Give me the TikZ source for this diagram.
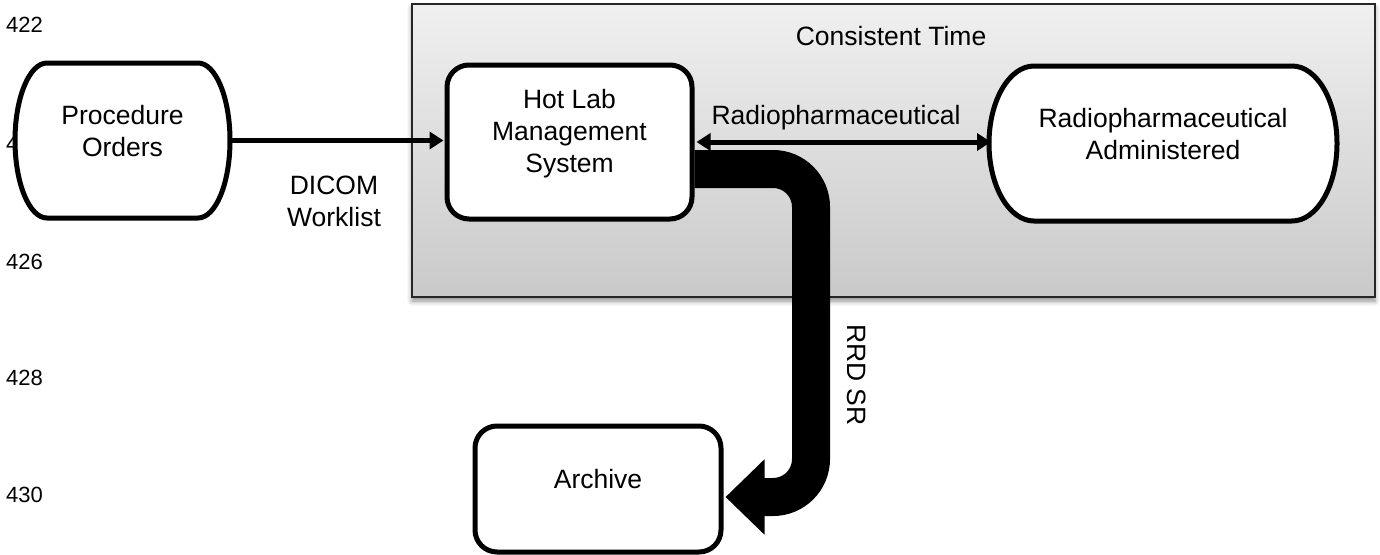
\documentclass[tikz,border=0pt]{standalone}
\usepackage{fontspec}
\setmainfont{Liberation Sans}
\usetikzlibrary{arrows.meta,shadows.blur}
\begin{document}
\begin{tikzpicture}[x=1pt,y=-1pt,
  txt/.style={font=\fontsize{26.5}{32}\selectfont, align=center, inner sep=0pt},
  lnum/.style={font=\fontsize{22}{26}\selectfont, inner sep=0pt},
  box/.style={draw=black, line width=5pt, fill=white, rounded corners=22pt},
  termline/.style={draw=black, line width=5pt, fill=white},
  cont/.style={draw=black!85, line width=1.8pt, top color=black!6, bottom color=black!21,
    blur shadow={shadow xshift=0pt, shadow yshift=-4pt, shadow blur radius=5pt, shadow opacity=45}},
  conn/.style={line width=5pt},
  thintip/.tip={Triangle[length=14pt,width=17pt]}
]
\useasboundingbox (0,0) rectangle (1380,554);
% line numbers
\node[lnum] (n422) at (24.5,25) {422};
\node[lnum] (n424) at (24.5,143.5) {424};
\node[lnum] (n426) at (24.5,262) {426};
\node[lnum] (n428) at (24.5,378) {428};
\node[lnum] (n430) at (24.5,495) {430};
% container
\node[cont, minimum width=963pt, minimum height=293pt] (ct) at (893.5,150.5) {};
\node[txt] (ctl) at (891,36) {Consistent Time};
% Procedure Orders (terminator with half-elliptic ends)
\node[minimum width=215pt, minimum height=155pt, inner sep=0pt, outer sep=0pt] (po) at (122.5,140.5) {};
\path[termline] ([xshift=32pt]po.north west) -- ([xshift=-32pt]po.north east)
  arc[start angle=90, end angle=-90, x radius=32pt, y radius=77.5pt]
  -- ([xshift=32pt]po.south west)
  arc[start angle=270, end angle=90, x radius=32pt, y radius=77.5pt] -- cycle;
\node[txt] (pot) at ([yshift=9pt]po.center) {Procedure\\Orders};
% Hot Lab
\node[box, minimum width=245pt, minimum height=154pt] (hl) at (569.5,142) {};
\node[txt] (hlt) at ([yshift=8pt]hl.center) {Hot Lab\\Management\\System};
% Radiopharmaceutical Administered
\node[minimum width=348pt, minimum height=155pt, inner sep=0pt, outer sep=0pt] (ra) at (1163,143.5) {};
\path[termline] ([xshift=45pt]ra.north west) -- ([xshift=-45pt]ra.north east)
  arc[start angle=90, end angle=-90, x radius=45pt, y radius=77.5pt]
  -- ([xshift=45pt]ra.south west)
  arc[start angle=270, end angle=90, x radius=45pt, y radius=77.5pt] -- cycle;
\node[txt] (rat) at ([yshift=9pt]ra.center) {Radiopharmaceutical\\Administered};
% Archive
\node[box, minimum width=246pt, minimum height=126pt] (ar) at (598,489) {};
\node[txt] (art) at ([yshift=10pt]ar.center) {Archive};
% connectors
\draw[conn, -thintip] ([xshift=-1pt]po.east) -- ([xshift=-1pt]po.east -| hl.west);
\node[txt] (dw) at (334,201.5) {DICOM\\Worklist};
\draw[conn, thintip-thintip] ([xshift=2pt]hl.east) -- ([xshift=2pt]hl.east -| ra.west);
\node[txt] (rl) at (836,118) {Radiopharmaceutical};
\coordinate (c1) at (811,169);
\coordinate (c2) at (811,497);
\draw[line width=38pt, rounded corners=38pt, -{Triangle[length=39pt,width=73pt]}]
  ([yshift=-27pt]hl.east) -- (c1) -- (c2) -- ([xshift=2pt]ar.east |- c2);
\node[txt, rotate=-90] (rrd) at (857,375) {RRD SR};
\end{tikzpicture}
\end{document}
